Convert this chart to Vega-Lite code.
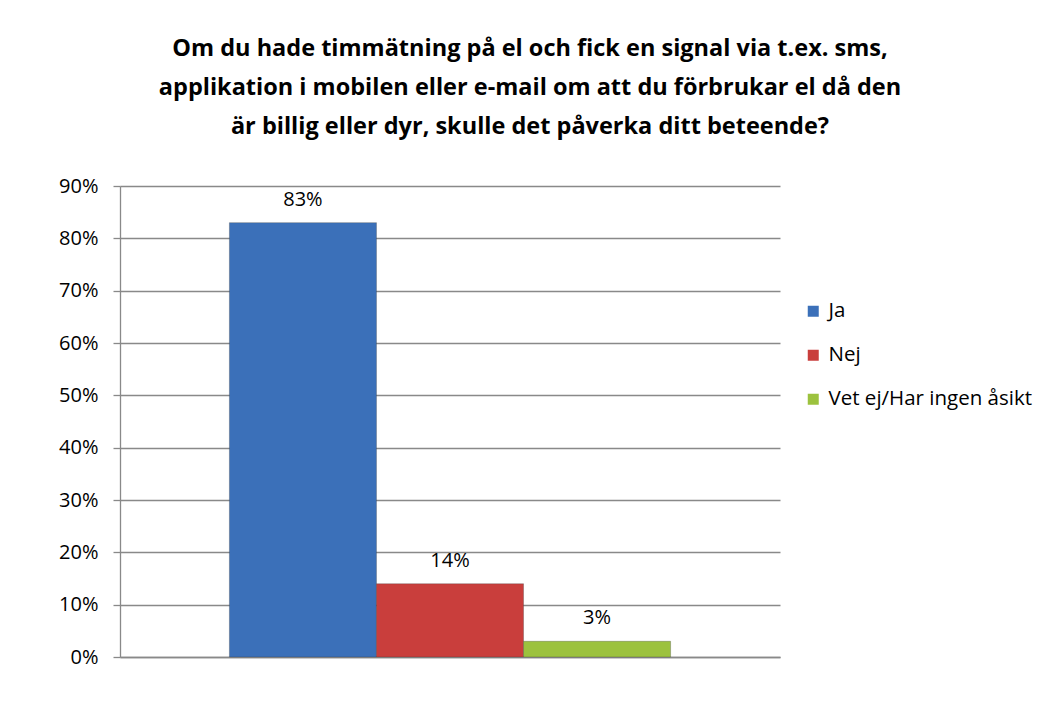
{
  "$schema": "https://vega.github.io/schema/vega-lite/v6.json",
  "width": 660,
  "height": 471,
  "autosize": {"type": "none"},
  "padding": {"left": 120, "top": 186, "right": 279, "bottom": 45},
  "background": "white",
  "title": {
    "text": [
      "Om du hade timmätning på el och fick en signal via t.ex. sms,",
      "applikation i mobilen eller e-mail om att du förbrukar el då den",
      "är billig eller dyr, skulle det påverka ditt beteende?"
    ],
    "font": "Open Sans",
    "fontWeight": "bold",
    "fontSize": 23.5,
    "color": "#000000",
    "anchor": "middle",
    "dx": 80,
    "offset": 38,
    "lineHeight": 39
  },
  "data": {
    "values": [
      {"grupp": "Alla", "svar": "Ja", "andel": 0.83},
      {"grupp": "Alla", "svar": "Nej", "andel": 0.14},
      {"grupp": "Alla", "svar": "Vet ej/Har ingen åsikt", "andel": 0.03}
    ]
  },
  "encoding": {
    "x": {
      "field": "grupp",
      "type": "nominal",
      "scale": {"paddingOuter": 0.248, "paddingInner": 0},
      "axis": {"labels": false, "ticks": false, "title": null, "domainColor": "#898989", "domainWidth": 1.3}
    },
    "xOffset": {
      "field": "svar",
      "type": "nominal",
      "sort": ["Ja", "Nej", "Vet ej/Har ingen åsikt"],
      "scale": {"paddingInner": 0, "paddingOuter": 0}
    },
    "y": {
      "field": "andel",
      "type": "quantitative",
      "scale": {"domain": [0, 0.9], "nice": false},
      "axis": {
        "title": null,
        "format": ".0%",
        "values": [0, 0.1, 0.2, 0.3, 0.4, 0.5, 0.6, 0.7, 0.8, 0.9],
        "labelFont": "Open Sans",
        "labelFontSize": 20,
        "labelColor": "#000000",
        "labelPadding": 15,
        "tickSize": 7,
        "tickColor": "#898989",
        "tickWidth": 1.3,
        "domainColor": "#898989",
        "domainWidth": 1.3,
        "gridColor": "#898989",
        "gridWidth": 1.3
      }
    }
  },
  "layer": [
    {
      "mark": {"type": "bar", "stroke": "#3a3a3a", "strokeWidth": 0.5, "strokeOpacity": 0.6},
      "encoding": {
        "color": {
          "field": "svar",
          "type": "nominal",
          "sort": ["Ja", "Nej", "Vet ej/Har ingen åsikt"],
          "scale": {
            "domain": ["Ja", "Nej", "Vet ej/Har ingen åsikt"],
            "range": ["#3B70B9", "#C93E3C", "#9CC23E"]
          },
          "legend": {
            "title": null,
            "orient": "none",
            "legendX": 683,
            "legendY": 115,
            "symbolType": "square",
            "symbolSize": 121,
            "symbolStrokeWidth": 0,
            "labelFont": "Open Sans",
            "labelFontSize": 20.5,
            "labelColor": "#000000",
            "labelOffset": 5,
            "labelLimit": 300,
            "rowPadding": 23
          }
        }
      }
    },
    {
      "mark": {"type": "text", "baseline": "alphabetic", "dy": -17, "font": "Open Sans", "fontSize": 20, "color": "#000000"},
      "encoding": {
        "text": {"field": "andel", "type": "quantitative", "format": ".0%"}
      }
    }
  ],
  "config": {"view": {"stroke": null}}
}
